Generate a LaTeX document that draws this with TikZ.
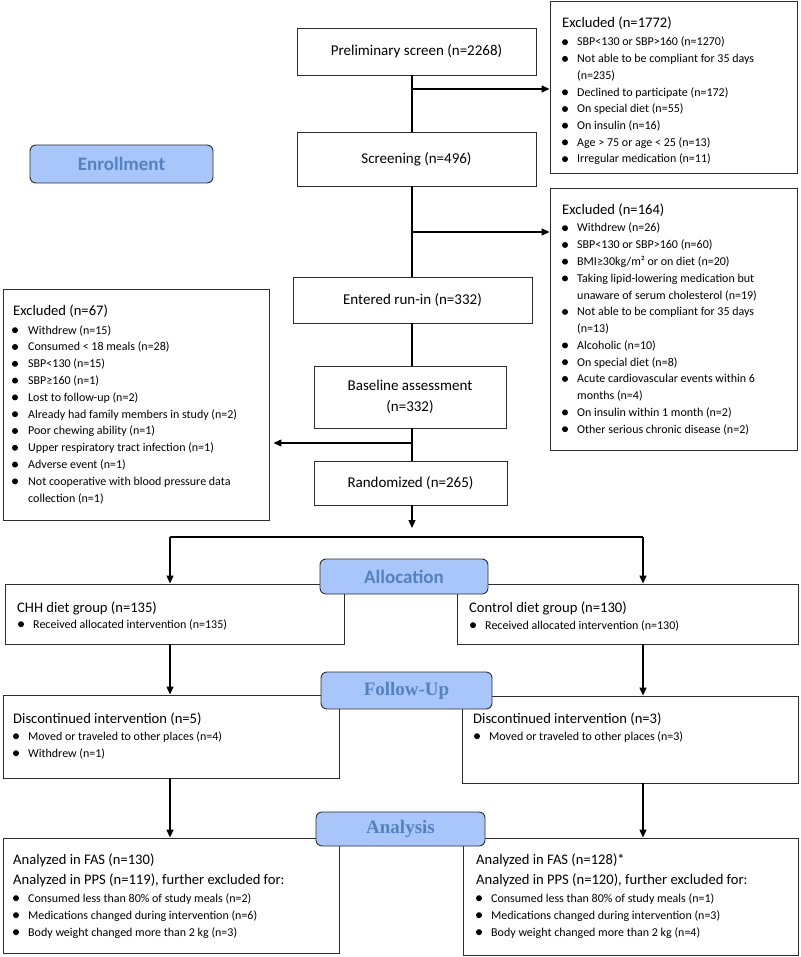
\documentclass[tikz,border=0pt]{standalone}
\usepackage{fontspec}
\setmainfont{Carlito}
\newfontfamily\labserif{Liberation Serif}
\usetikzlibrary{arrows.meta}
\definecolor{labfill}{RGB}{168,198,250}
\definecolor{labtext}{RGB}{84,130,193}
\definecolor{edge}{RGB}{45,45,45}
\tikzset{
  plainbox/.style={draw=edge, line width=0.9pt, inner sep=0pt},
  mainbox/.style={plainbox, align=center, font=\fontsize{15}{21}\selectfont},
  stagebox/.style={draw=edge, line width=0.9pt, fill=labfill, rounded corners=6pt,
    text=labtext, inner sep=0pt, font=\fontsize{19}{22}\selectfont\bfseries},
  ttl/.style={anchor=base west, inner sep=0pt, font=\fontsize{14.6}{17}\selectfont},
  itxt/.style={anchor=base west, inner sep=0pt, font=\fontsize{12}{14}\selectfont},
  link/.style={line width=1.3pt, draw=black},
  arr/.style={link, -{Triangle[length=8pt,width=7pt]}},
}
% bullet item: name, x of dot, x of text, baseline y, text
\newcommand\itm[5]{%
  \fill ({#2},{#4-3.8}) circle (3);
  \node[itxt] (#1) at ({#3},{#4}) {#5};}
% continuation line: name, x, baseline, text
\newcommand\cnt[4]{\node[itxt] (#1) at ({#2},{#3}) {#4};}
\begin{document}
\begin{tikzpicture}[x=1pt,y=-1pt]
\fill[white] (0,0) rectangle (800,957);
\useasboundingbox (0,0) rectangle (800,957);
\coordinate (spine) at (412,0);

% ---------- main column ----------
\node[mainbox, minimum width=239pt, minimum height=47pt] (prelim) at (416.5,51.5) {Preliminary screen (n=2268)};
\node[mainbox, minimum width=239pt, minimum height=54pt] (scr) at (416.5,159) {Screening (n=496)};
\node[mainbox, minimum width=239pt, minimum height=46pt] (runin) at (412.5,300) {Entered run-in (n=332)};
\node[mainbox, minimum width=192pt, minimum height=62pt] (base) at (410,397) {Baseline assessment\\(n=332)};
\node[mainbox, minimum width=193pt, minimum height=44pt] (rand) at (410.5,483) {Randomized (n=265)};

% ---------- excluded boxes ----------
\node[plainbox, minimum width=247pt, minimum height=172pt] (ex1) at (673.5,87) {};
\node[plainbox, minimum width=247pt, minimum height=262pt] (ex2) at (673.5,319) {};
\node[plainbox, minimum width=266pt, minimum height=231pt] (exl) at (136,404.5) {};

\node[ttl] (ex1t) at (562,28) {Excluded (n=1772)};
\itm{e1a}{565}{577}{46}{SBP<130 or SBP>160 (n=1270)}
\itm{e1b}{565}{577}{62.7}{Not able to be compliant for 35 days}
\cnt{e1bc}{577}{79.4}{(n=235)}
\itm{e1c}{565}{577}{96.1}{Declined to participate (n=172)}
\itm{e1d}{565}{577}{112.8}{On special diet (n=55)}
\itm{e1e}{565}{577}{129.5}{On insulin (n=16)}
\itm{e1f}{565}{577}{146.2}{Age > 75 or age < 25 (n=13)}
\itm{e1g}{565}{577}{162.9}{Irregular medication (n=11)}

\node[ttl] (ex2t) at (562,215) {Excluded (n=164)};
\itm{e2a}{565}{577}{232}{Withdrew (n=26)}
\itm{e2b}{565}{577}{248.75}{SBP<130 or SBP>160 (n=60)}
\itm{e2c}{565}{577}{265.5}{BMI≥30kg/m² or on diet (n=20)}
\itm{e2d}{565}{577}{282.25}{Taking lipid-lowering medication but}
\cnt{e2dc}{577}{299}{unaware of serum cholesterol (n=19)}
\itm{e2e}{565}{577}{315.75}{Not able to be compliant for 35 days}
\cnt{e2ec}{577}{332.5}{(n=13)}
\itm{e2f}{565}{577}{349.25}{Alcoholic (n=10)}
\itm{e2g}{565}{577}{366}{On special diet (n=8)}
\itm{e2h}{565}{577}{382.75}{Acute cardiovascular events within 6}
\cnt{e2hc}{577}{399.5}{months (n=4)}
\itm{e2i}{565}{577}{416.25}{On insulin within 1 month (n=2)}
\itm{e2j}{565}{577}{433}{Other serious chronic disease (n=2)}

\node[ttl] (exlt) at (13,315) {Excluded (n=67)};
\itm{ela}{15}{28}{334}{Withdrew (n=15)}
\itm{elb}{15}{28}{350.8}{Consumed < 18 meals (n=28)}
\itm{elc}{15}{28}{367.6}{SBP<130 (n=15)}
\itm{eld}{15}{28}{384.4}{SBP≥160 (n=1)}
\itm{ele}{15}{28}{401.2}{Lost to follow-up (n=2)}
\itm{elf}{15}{28}{418}{Already had family members in study (n=2)}
\itm{elg}{15}{28}{434.8}{Poor chewing ability (n=1)}
\itm{elh}{15}{28}{451.6}{Upper respiratory tract infection (n=1)}
\itm{eli}{15}{28}{468.4}{Adverse event (n=1)}
\itm{elj}{15}{28}{485.2}{Not cooperative with blood pressure data}
\cnt{eljc}{28}{502}{collection (n=1)}

% ---------- arm boxes ----------
\node[plainbox, minimum width=339pt, minimum height=60pt] (chh) at (174.5,614) {};
\node[plainbox, minimum width=341pt, minimum height=60pt] (ctrl) at (627.5,614) {};
\node[plainbox, minimum width=336pt, minimum height=83pt] (dl) at (171,736.5) {};
\node[plainbox, minimum width=336pt, minimum height=87pt] (dr) at (630,739.5) {};
\node[plainbox, minimum width=336pt, minimum height=115pt] (al) at (171,895.5) {};
\node[plainbox, minimum width=335pt, minimum height=117pt] (ar) at (630.5,896.5) {};

\node[ttl] (chht) at (17,612) {CHH diet group (n=135)};
\itm{chha}{21}{33}{628}{Received allocated intervention (n=135)}
\node[ttl] (ctrlt) at (469,612) {Control diet group (n=130)};
\itm{ctrla}{473}{485}{629}{Received allocated intervention (n=130)}

\node[ttl] (dlt) at (13,723) {Discontinued intervention (n=5)};
\itm{dla}{16}{28}{740}{Moved or traveled to other places (n=4)}
\itm{dlb}{16}{28}{757}{Withdrew (n=1)}
\node[ttl] (drt) at (473,723) {Discontinued intervention (n=3)};
\itm{dra}{477}{489}{740}{Moved or traveled to other places (n=3)}

\node[ttl] (alt1) at (13,864) {Analyzed in FAS (n=130)};
\node[ttl] (alt2) at (13,884) {Analyzed in PPS (n=119), further excluded for:};
\itm{ala}{16}{28}{902}{Consumed less than 80\% of study meals (n=2)}
\itm{alb}{16}{28}{919}{Medications changed during intervention (n=6)}
\itm{alc}{16}{28}{936}{Body weight changed more than 2 kg (n=3)}
\node[ttl] (art1) at (476,864) {Analyzed in FAS (n=128)*};
\node[ttl] (art2) at (476,884) {Analyzed in PPS (n=120), further excluded for:};
\itm{ara}{479}{491}{902}{Consumed less than 80\% of study meals (n=1)}
\itm{arb}{479}{491}{919}{Medications changed during intervention (n=3)}
\itm{arc}{479}{491}{936}{Body weight changed more than 2 kg (n=4)}

% ---------- stage labels ----------
\node[stagebox, minimum width=183pt, minimum height=38pt] (enr) at (121.5,164) {Enrollment};
\node[stagebox, minimum width=168pt, minimum height=35pt] (alloc) at (404,576.5) {Allocation};
\node[stagebox, minimum width=171pt, minimum height=37pt, font=\fontsize{19}{22}\selectfont\labserif\bfseries] (fup) at (406.5,690.5) {Follow-Up};
\node[stagebox, minimum width=169pt, minimum height=34pt, font=\fontsize{19}{22}\selectfont\labserif\bfseries] (ana) at (400.5,829) {Analysis};

% ---------- connectors ----------
\coordinate (j1) at (412,89);
\coordinate (j2) at (412,232);
\coordinate (j3) at (412,443);
\coordinate (j4) at (412,528);
\coordinate (jl) at (170,537);
\coordinate (jr) at (643,537);
\draw[link] (prelim.south -| spine) -- (scr.north -| spine);
\draw[arr] (j1) -- (j1 -| ex1.west);
\draw[link] (scr.south -| spine) -- (runin.north -| spine);
\draw[arr] (j2) -- (j2 -| ex2.west);
\draw[link] (runin.south -| spine) -- (base.north -| spine);
\draw[link] (base.south -| spine) -- (rand.north -| spine);
\draw[arr, shorten >=4pt] (j3) -- (j3 -| exl.east);
\draw[arr] (rand.south -| spine) -- (j4);
\draw[link] (jl) -- (jr);
\draw[arr] (jl) -- (jl |- chh.north);
\draw[arr] (jr) -- (jr |- ctrl.north);
\draw[arr] (chh.south -| jl) -- (dl.north -| jl);
\draw[arr] (ctrl.south -| jr) -- (dr.north -| jr);
\draw[arr] (dl.south -| jl) -- (al.north -| jl);
\draw[arr] (dr.south -| jr) -- (ar.north -| jr);
\end{tikzpicture}
\end{document}
